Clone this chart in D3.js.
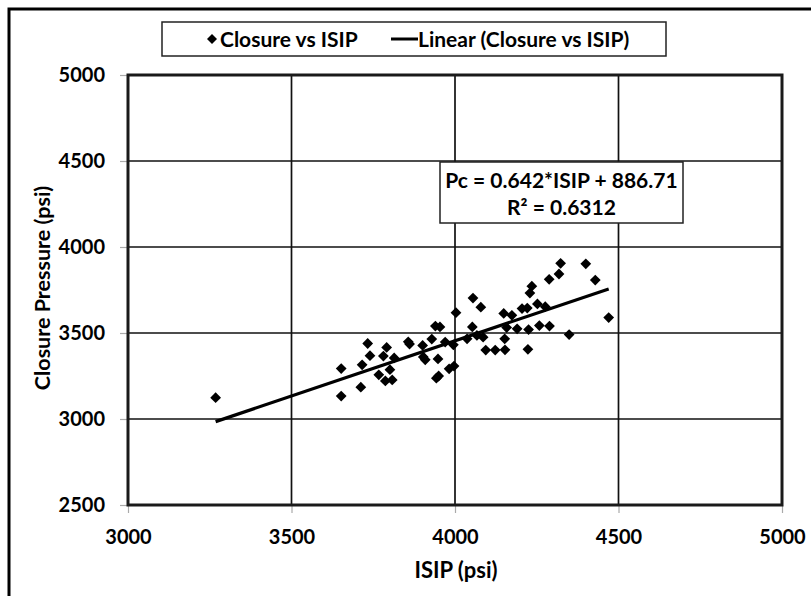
<!DOCTYPE html>
<html>
<head>
<meta charset="utf-8">
<script src="https://cdn.jsdelivr.net/npm/d3@7"></script>
<style>
  body { margin: 0; background: #fff; }
  text { font-family: Lato, "Open Sans", sans-serif; font-weight: 700; fill: #000; }
</style>
</head>
<body>
<svg id="chart" width="811" height="596"></svg>
<script>
// Instantaneous shut-in pressure (psi) for each test
const isip = [
  3268, 3652, 3652, 3712, 3716, 3733, 3740, 3767, 3781, 3791,
  3787, 3808, 3801, 3814, 3857, 3861, 3901, 3903, 3909, 3929,
  3940, 3954, 3943, 3950, 3948, 3970, 3982, 3997, 3995, 4003,
  4037, 4053, 4055, 4067, 4086, 4079, 4094, 4123, 4153, 4152,
  4149, 4174, 4158, 4190, 4205, 4221, 4223, 4225, 4229, 4235,
  4252, 4258, 4276, 4288, 4289, 4318, 4323, 4349, 4400, 4429,
  4470
];
// Closure pressure (psi) for the same tests
const closure = [
  3124, 3293, 3133, 3185, 3315, 3439, 3368, 3257, 3366, 3416,
  3221, 3227, 3287, 3355, 3449, 3436, 3428, 3361, 3344, 3465,
  3540, 3535, 3237, 3250, 3349, 3447, 3292, 3308, 3431, 3618,
  3466, 3535, 3703, 3486, 3476, 3650, 3401, 3401, 3402, 3466,
  3614, 3603, 3532, 3524, 3642, 3645, 3405, 3520, 3732, 3772,
  3669, 3543, 3653, 3812, 3540, 3843, 3905, 3491, 3902, 3808,
  3590
];

const xTicks = [3000, 3500, 4000, 4500, 5000];
const yTicks = [2500, 3000, 3500, 4000, 4500, 5000];

// Linear fit  Pc = a*ISIP + b
const fitSlope = 0.642;
const fitIntercept = 886.71;
const fitLabel = "Pc = 0.642*ISIP + 886.71";
const r2Label = "R² = 0.6312";

const legendLabels = ["Closure vs ISIP", "Linear (Closure vs ISIP)"];
const xTitle = "ISIP (psi)";
const yTitle = "Closure Pressure (psi)";

const svg = d3.select("#chart");
const plot = { left: 128, right: 782, top: 75, bottom: 505 };

const x = d3.scaleLinear().domain([3000, 5000]).range([plot.left, plot.right]);
const y = d3.scaleLinear().domain([2500, 5000]).range([plot.bottom, plot.top]);

// Outer chart frame (runs off the right and bottom edges)
svg.append("rect")
  .attr("x", 9).attr("y", 9).attr("width", 830).attr("height", 620)
  .attr("fill", "#fff").attr("stroke", "#000").attr("stroke-width", 3);

// Gridlines
const grid = svg.append("g").attr("stroke", "#111").attr("stroke-width", 1.7);
grid.selectAll("line.v").data(xTicks.slice(1, -1)).join("line")
  .attr("x1", d => x(d)).attr("x2", d => x(d))
  .attr("y1", plot.top).attr("y2", plot.bottom);
grid.selectAll("line.h").data(yTicks.slice(1, -1)).join("line")
  .attr("y1", d => y(d)).attr("y2", d => y(d))
  .attr("x1", plot.left).attr("x2", plot.right);

// Axes: small grey ticks outside the plot, bold labels
const xAxis = svg.append("g")
  .attr("transform", `translate(0,${plot.bottom})`)
  .call(d3.axisBottom(x).tickValues(xTicks).tickFormat(d3.format("d")).tickSize(8).tickSizeOuter(0).tickPadding(17));
const yAxis = svg.append("g")
  .attr("transform", `translate(${plot.left},0)`)
  .call(d3.axisLeft(y).tickValues(yTicks).tickFormat(d3.format("d")).tickSize(8).tickSizeOuter(0).tickPadding(15));
[xAxis, yAxis].forEach(g => {
  g.select(".domain").remove();
  g.selectAll(".tick line").attr("stroke", "#aaa").attr("stroke-width", 1.2);
  g.selectAll(".tick text").attr("font-size", 20).attr("font-family", null).attr("fill", "#000");
});

// Plot frame
svg.append("rect")
  .attr("x", plot.left).attr("y", plot.top)
  .attr("width", plot.right - plot.left).attr("height", plot.bottom - plot.top)
  .attr("fill", "none").attr("stroke", "#1a1a1a").attr("stroke-width", 3);

// Diamond marker
const diamond = {
  draw(ctx, size) {
    const r = Math.sqrt(size / 2);
    ctx.moveTo(0, -r); ctx.lineTo(r, 0); ctx.lineTo(0, r); ctx.lineTo(-r, 0); ctx.closePath();
  }
};
const marker = d3.symbol().type(diamond).size(58);

const points = isip.map((v, i) => ({ isip: v, pc: closure[i] }));
svg.append("g").selectAll("path").data(points).join("path")
  .attr("transform", d => `translate(${x(d.isip)},${y(d.pc)})`)
  .attr("d", marker).attr("fill", "#000");

// Trend line over the range of the data
const xExtent = d3.extent(isip);
svg.append("path")
  .datum(xExtent.map(v => ({ isip: v, pc: fitSlope * v + fitIntercept })))
  .attr("d", d3.line().x(d => x(d.isip)).y(d => y(d.pc)))
  .attr("fill", "none").attr("stroke", "#000").attr("stroke-width", 3.2);

// Fit equation box
const eq = svg.append("g");
eq.append("rect").attr("x", 440).attr("y", 162).attr("width", 243).attr("height", 61)
  .attr("fill", "#fff").attr("stroke", "#222").attr("stroke-width", 1.5);
eq.append("text").attr("x", 561.5).attr("y", 188).attr("text-anchor", "middle")
  .attr("font-size", 21).text(fitLabel);
eq.append("text").attr("x", 561.5).attr("y", 215).attr("text-anchor", "middle")
  .attr("font-size", 21).text(r2Label);

// Legend
const lg = svg.append("g");
lg.append("rect").attr("x", 162).attr("y", 22).attr("width", 504).attr("height", 34)
  .attr("fill", "#fff").attr("stroke", "#222").attr("stroke-width", 1.5);
lg.append("path").attr("transform", "translate(212,39)").attr("d", d3.symbol().type(diamond).size(50)).attr("fill", "#000");
lg.append("text").attr("x", 220).attr("y", 47).attr("font-size", 21).text(legendLabels[0]);
lg.append("line").attr("x1", 391).attr("x2", 418).attr("y1", 39).attr("y2", 39)
  .attr("stroke", "#000").attr("stroke-width", 3);
lg.append("text").attr("x", 418).attr("y", 47).attr("font-size", 21).text(legendLabels[1]);

// Axis titles
svg.append("text").attr("x", 456).attr("y", 578).attr("text-anchor", "middle")
  .attr("font-size", 22).text(xTitle);
svg.append("text").attr("transform", "translate(50,288) rotate(-90)")
  .attr("text-anchor", "middle").attr("font-size", 21.5).text(yTitle);
</script>
</body>
</html>
